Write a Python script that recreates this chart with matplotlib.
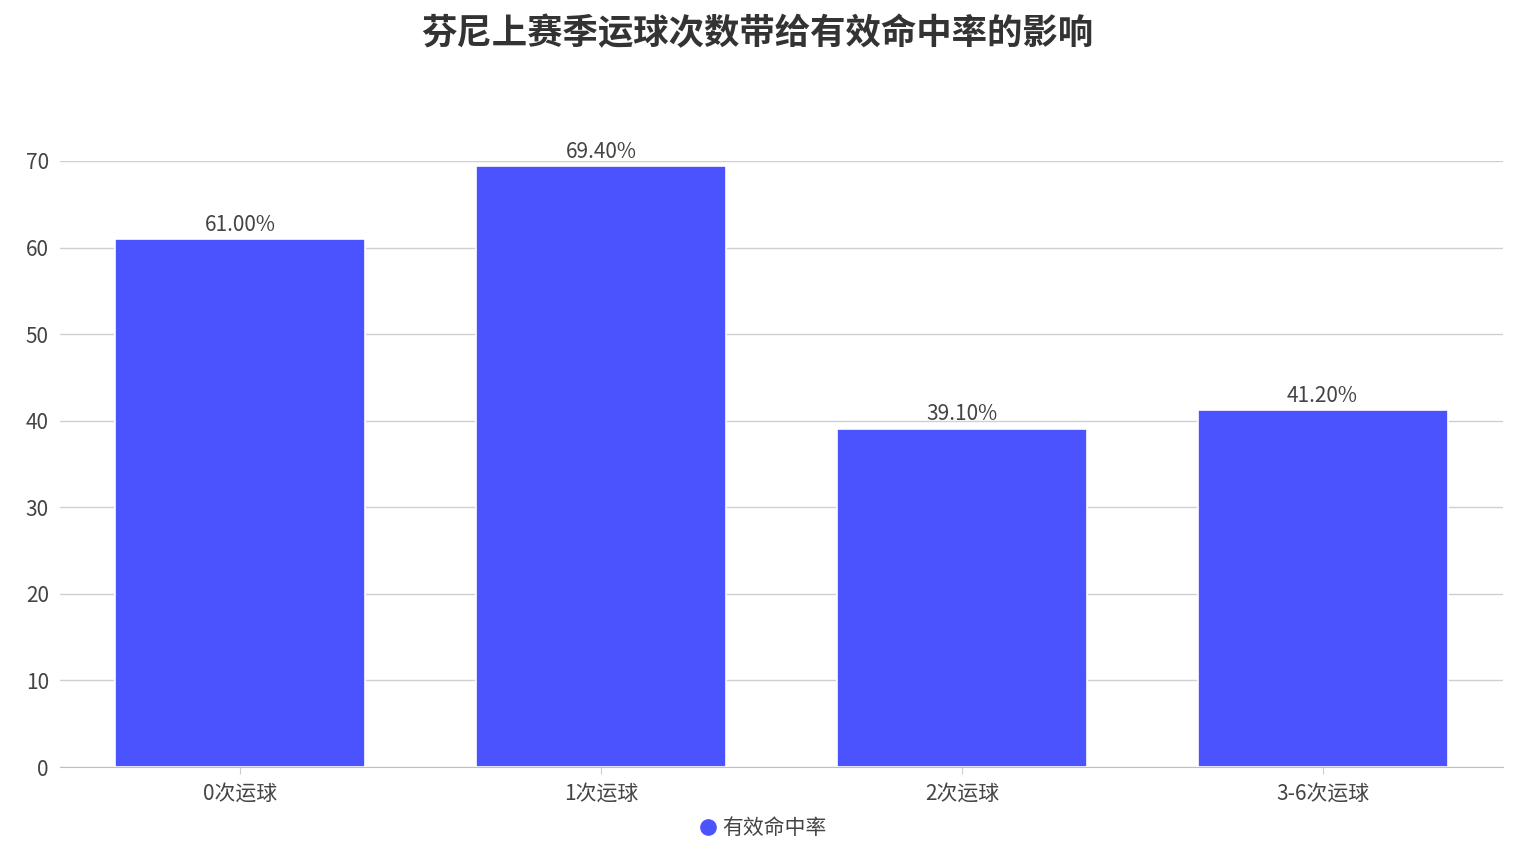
import matplotlib.pyplot as plt
import numpy as np

plt.rcParams['font.family'] = ['Noto Sans CJK SC', 'DejaVu Sans']

categories = ['0次运球', '1次运球', '2次运球', '3-6次运球']
values = [61.0, 69.4, 39.1, 41.2]
series_name = '有效命中率'
title = '芬尼上赛季运球次数带给有效命中率的影响'

bar_color = '#4b53ff'
text_color = '#444444'

fig = plt.figure(figsize=(15.14, 8.55), dpi=100)
ax = fig.add_axes([0.0396, 0.1029, 0.9531, 0.7088])

x = np.arange(len(categories))
bars = ax.bar(x, values, 0.693, color=bar_color, edgecolor='white',
              linewidth=1.2, zorder=3, label=series_name)

for xi, v in zip(x, values):
    ax.text(xi, v + 0.35, f'{v:.2f}%', ha='center', va='bottom',
            fontsize=15, color=text_color, zorder=4)

ax.set_xlim(-0.5, len(categories) - 0.5)
ax.set_ylim(0, 70)
ax.set_yticks(np.arange(0, 71, 10))
ax.set_xticks(x)
ax.set_xticklabels(categories)
ax.tick_params(axis='x', length=5, color='#cccccc', labelsize=15,
               labelcolor=text_color, pad=6)
ax.tick_params(axis='y', length=0, labelsize=15, labelcolor=text_color, pad=8)
ax.grid(axis='y', color='#d0d0d0', linewidth=1, zorder=0)

for s in ['top', 'right', 'left']:
    ax.spines[s].set_visible(False)
ax.spines['bottom'].set_color('#c0c0c0')
ax.spines['bottom'].set_zorder(2)

fig.text(0.5, 0.961, title, ha='center', va='center', fontsize=25.5,
         fontweight='bold', color='#333333')

handle = plt.Line2D([], [], marker='o', linestyle='', markersize=11,
                    color=bar_color)
fig.legend([handle], [series_name], loc='center', bbox_to_anchor=(0.5, 0.031),
           frameon=False, fontsize=15, handletextpad=-0.3,
           labelcolor=text_color)

fig.savefig('out.png', dpi=100)
